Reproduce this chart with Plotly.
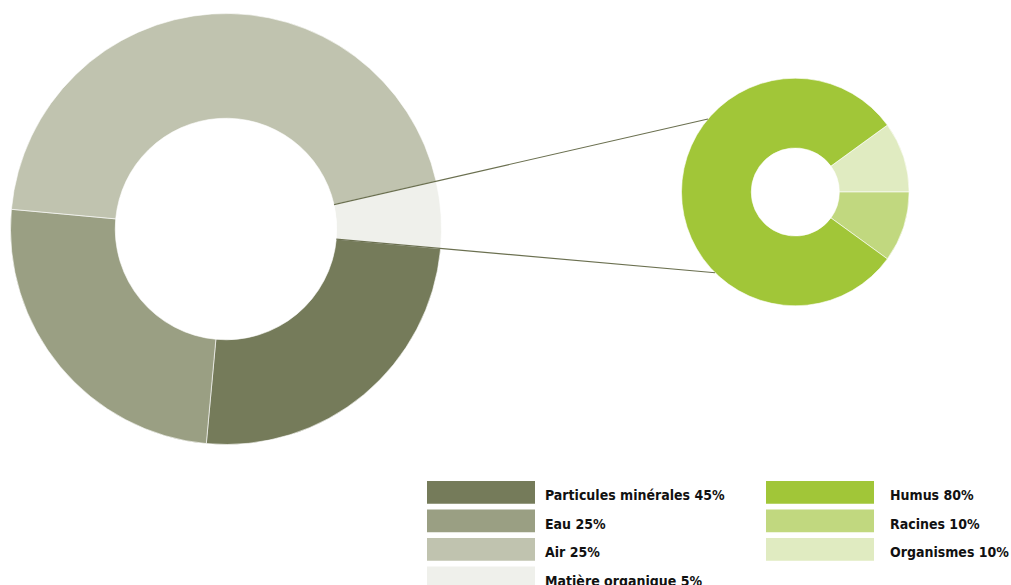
import math
import plotly.graph_objects as go

W, H = 1011, 585

# ---- data ----
soil_labels = ["Particules minérales", "Eau", "Air", "Matière organique"]
soil_pct = [45, 25, 25, 5]
soil_colors = ["#757B5A", "#9A9F83", "#C0C3AF", "#EFF0EB"]

# ring as drawn in the picture, clockwise from the top-right edge
soil_ring_labels = ["Matière organique", "Particules minérales", "Eau", "Air"]
soil_ring_values = [5, 25, 25, 45]
soil_ring_colors = ["#EFF0EB", "#757B5A", "#9A9F83", "#C0C3AF"]

om_labels = ["Humus", "Racines", "Organismes"]
om_pct = [80, 10, 10]
om_colors = ["#A1C638", "#C1D87F", "#E0EBC1"]

om_ring_labels = ["Organismes", "Racines", "Humus"]
om_ring_values = [10, 10, 80]
om_ring_colors = ["#E0EBC1", "#C1D87F", "#A1C638"]

# ---- layout geometry (pixels) ----
big_c, big_r, big_hole, big_rot = (226.0, 229.0), 215.5, 0.514, 77.25
sm_c, sm_r, sm_hole, sm_rot = (795.3, 192.0), 113.8, 0.387, 54.0


def dom(c, r):
    cx, cy = c
    return dict(x=[(cx - r) / W, (cx + r) / W],
                y=[(H - cy - r) / H, (H - cy + r) / H])


def px2paper(x, y):
    return x / W, (H - y) / H


def on_circle(c, r, ang_deg):
    a = math.radians(ang_deg)
    return c[0] + r * math.sin(a), c[1] - r * math.cos(a)


fig = go.Figure()
fig.add_trace(go.Pie(
    labels=soil_ring_labels, values=soil_ring_values, sort=False,
    direction="clockwise", rotation=big_rot, hole=big_hole,
    marker=dict(colors=soil_ring_colors, line=dict(color="white", width=0.6)),
    textinfo="none", hoverinfo="label+percent", showlegend=False,
    domain=dom(big_c, big_r)))
fig.add_trace(go.Pie(
    labels=om_ring_labels, values=om_ring_values, sort=False,
    direction="clockwise", rotation=sm_rot, hole=sm_hole,
    marker=dict(colors=om_ring_colors, line=dict(color="white", width=0.6)),
    textinfo="none", hoverinfo="label+percent", showlegend=False,
    domain=dom(sm_c, sm_r)))

# connector lines from the organic-matter slice to the small ring
tot = sum(soil_ring_values)
a0 = big_rot
a1 = big_rot + 360 * soil_ring_values[0] / tot
inner = big_r * big_hole
p_up0 = on_circle(big_c, inner, a0)
p_dn0 = on_circle(big_c, inner, a1)
p_up1 = on_circle(sm_c, sm_r, 309.9)
p_dn1 = on_circle(sm_c, sm_r, 224.8)
shapes = []
for p, q in [(p_up0, p_up1), (p_dn0, p_dn1)]:
    x0, y0 = px2paper(*p)
    x1, y1 = px2paper(*q)
    shapes.append(dict(type="line", xref="paper", yref="paper",
                       x0=x0, y0=y0, x1=x1, y1=y1,
                       line=dict(color="#6B7050", width=1.2)))

# custom legend
annotations = []
font = dict(family="DejaVu Sans Condensed, sans-serif", size=14, color="#111111")


def legend_col(labels, pcts, colors, x_rect, x_text):
    for i, (lab, p, col) in enumerate(zip(labels, pcts, colors)):
        top = 481.0 + i * 28.5
        bot = top + 22.7
        xa, ya = px2paper(x_rect[0], top)
        xb, yb = px2paper(x_rect[1], bot)
        shapes.append(dict(type="rect", xref="paper", yref="paper",
                           x0=xa, x1=xb, y0=yb, y1=ya,
                           fillcolor=col, line=dict(width=0), layer="below"))
        tx, ty = px2paper(x_text, (top + bot) / 2 + 3.0)
        annotations.append(dict(text=f"<b>{lab} {p}%</b>", x=tx, y=ty,
                                xref="paper", yref="paper", xanchor="left",
                                yanchor="middle", showarrow=False, font=font))


legend_col(soil_labels, soil_pct, soil_colors, (427, 535), 543)
legend_col(om_labels, om_pct, om_colors, (766, 874), 888)

fig.update_layout(width=W, height=H, margin=dict(l=0, r=0, t=0, b=0),
                  paper_bgcolor="white", plot_bgcolor="white",
                  shapes=shapes, annotations=annotations, showlegend=False)
fig.write_html("out.html")
